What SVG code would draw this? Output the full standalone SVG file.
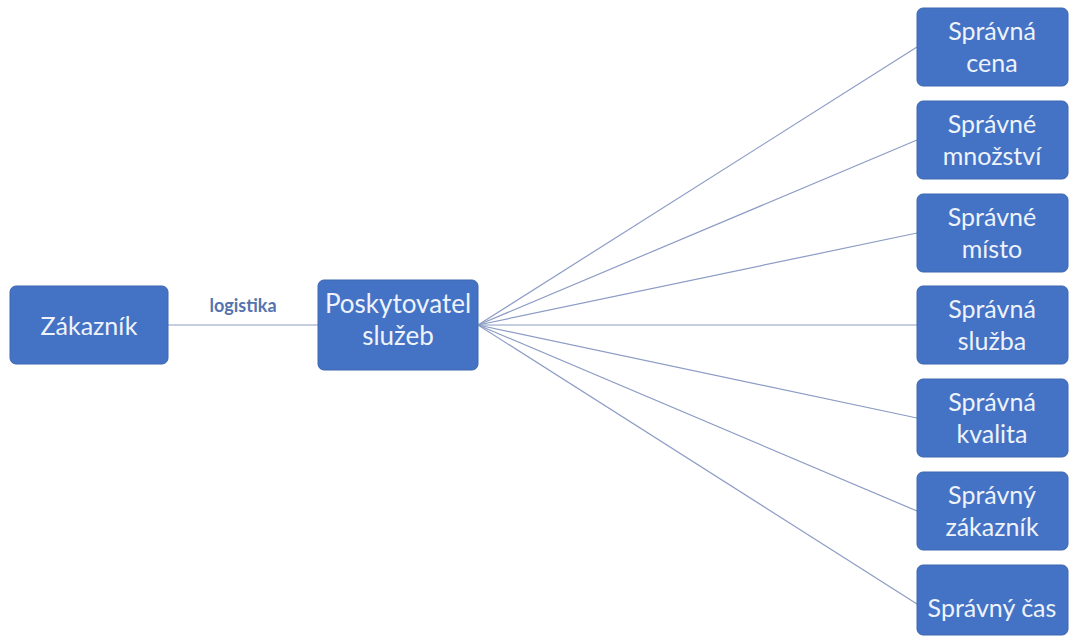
<svg xmlns="http://www.w3.org/2000/svg" width="1070" height="637" viewBox="0 0 1070 637">
<style>
.box{fill:#4472C4;stroke:#3d66b0;stroke-width:1}
.t{font-family:Lato,"Open Sans","Liberation Sans",sans-serif;font-size:25px;fill:#eef3fb;text-anchor:middle}
.c{stroke:#8c9cc4;stroke-width:1.2;fill:none}
.lbl{font-family:Lato,"Open Sans","Liberation Sans",sans-serif;font-size:18px;font-weight:bold;fill:#5573ad;text-anchor:middle}
</style>
<rect width="1070" height="637" fill="#ffffff"/>
<g id="connectors">
<line class="c" x1="168" y1="325" x2="318" y2="325"/>
<line class="c" x1="478" y1="325" x2="917" y2="47"/>
<line class="c" x1="478" y1="325" x2="917" y2="140"/>
<line class="c" x1="478" y1="325" x2="917" y2="233"/>
<line class="c" x1="478" y1="325" x2="917" y2="325"/>
<line class="c" x1="478" y1="325" x2="917" y2="418"/>
<line class="c" x1="478" y1="325" x2="917" y2="511"/>
<line class="c" x1="478" y1="325" x2="917" y2="604"/>
<text class="lbl" x="243" y="312">logistika</text>
</g>
<g id="zakaznik"><rect class="box" x="10" y="286" width="158" height="78" rx="6"/><text class="t" x="89" y="335">Zákazník</text></g>
<g id="poskytovatel"><rect class="box" x="318" y="280" width="160" height="90" rx="6"/><text class="t" x="398" y="313" style="font-size:26px">Poskytovatel</text><text class="t" x="398" y="345" style="font-size:26px">služeb</text></g>
<g id="cena"><rect class="box" x="917" y="8" width="151" height="78" rx="6"/><text class="t" x="992" y="40">Správná</text><text class="t" x="992" y="72">cena</text></g>
<g id="mnozstvi"><rect class="box" x="917" y="101" width="151" height="78" rx="6"/><text class="t" x="992" y="133">Správné</text><text class="t" x="992" y="165">množství</text></g>
<g id="misto"><rect class="box" x="917" y="194" width="151" height="78" rx="6"/><text class="t" x="992" y="226">Správné</text><text class="t" x="992" y="258">místo</text></g>
<g id="sluzba"><rect class="box" x="917" y="286" width="151" height="78" rx="6"/><text class="t" x="992" y="318">Správná</text><text class="t" x="992" y="350">služba</text></g>
<g id="kvalita"><rect class="box" x="917" y="379" width="151" height="78" rx="6"/><text class="t" x="992" y="411">Správná</text><text class="t" x="992" y="443">kvalita</text></g>
<g id="zakaznik2"><rect class="box" x="917" y="472" width="151" height="78" rx="6"/><text class="t" x="992" y="504">Správný</text><text class="t" x="992" y="536">zákazník</text></g>
<g id="cas"><rect class="box" x="917" y="565" width="151" height="70" rx="6"/><text class="t" x="992" y="617">Správný čas</text></g>
</svg>
